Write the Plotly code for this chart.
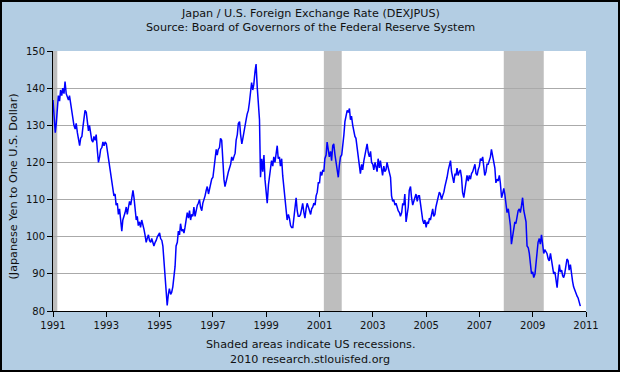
import pandas as pd
import plotly.graph_objects as go

# Semi-monthly readings (1st and 15th of each month), yen per US dollar
y1991 = [136.8, 131.5, 128.0, 130.5, 134.5, 138.0, 136.5, 139.5, 138.0, 140.0, 138.5, 141.8,
         138.5, 137.5, 136.8, 138.0, 135.5, 133.5, 131.0, 130.0, 129.0, 130.5, 128.0, 126.5]
y1992 = [124.5, 126.5, 127.0, 129.5, 133.0, 134.0, 133.5, 131.0, 128.5, 130.0, 127.0, 126.0,
         125.5, 127.0, 126.0, 127.5, 123.0, 120.0, 121.5, 123.5, 124.0, 125.5, 124.5, 125.5]
y1993 = [125.0, 123.0, 121.0, 118.5, 117.0, 115.5, 113.5, 111.0, 111.5, 108.5, 109.0, 106.0,
         107.5, 105.0, 101.5, 104.5, 105.5, 106.5, 108.0, 106.0, 108.0, 109.5, 108.5, 111.0]
y1994 = [112.5, 110.5, 108.0, 104.5, 105.5, 103.0, 104.0, 102.5, 104.5, 103.5, 102.0, 100.5,
         98.5, 99.5, 100.5, 99.0, 98.5, 99.5, 98.0, 97.5, 98.5, 99.0, 100.0, 100.5]
y1995 = [101.0, 99.5, 99.0, 97.5, 93.0, 88.5, 84.5, 81.5, 84.5, 86.0, 84.5, 85.0,
         86.5, 88.5, 92.0, 97.5, 98.5, 101.5, 100.5, 103.5, 101.5, 102.0, 101.0, 102.5]
y1996 = [104.5, 106.5, 105.0, 107.0, 104.5, 106.0, 105.5, 108.0, 105.5, 107.5, 108.5, 109.0,
         110.0, 108.0, 107.0, 109.0, 110.0, 111.0, 112.5, 113.5, 111.5, 113.0, 114.0, 115.5]
y1997 = [116.0, 118.5, 121.5, 123.5, 122.0, 123.5, 124.0, 126.5, 126.0, 119.5, 115.5, 113.5,
         114.5, 116.0, 117.5, 118.5, 119.5, 121.5, 120.5, 121.5, 122.5, 126.0, 127.5, 130.5]
y1998 = [131.0, 127.5, 125.0, 126.5, 128.5, 129.5, 131.5, 133.0, 134.0, 136.0, 140.0, 141.5,
         139.5, 141.0, 144.5, 146.5, 140.0, 135.0, 131.5, 116.0, 121.0, 117.5, 122.0, 115.5]
y1999 = [112.0, 109.0, 114.0, 116.5, 118.5, 120.5, 119.0, 121.5, 120.0, 122.5, 124.5, 121.0,
         121.5, 119.0, 121.0, 116.5, 113.5, 110.0, 107.0, 104.5, 106.0, 105.0, 103.0, 102.5]
y2000 = [102.5, 105.5, 107.0, 110.5, 107.0, 105.5, 105.5, 106.0, 107.5, 109.0, 106.5, 105.0,
         107.5, 109.0, 108.0, 107.0, 106.0, 107.5, 108.0, 109.0, 108.5, 111.0, 112.0, 114.5]
y2001 = [114.5, 117.5, 116.5, 118.0, 117.5, 121.0, 122.0, 125.5, 123.5, 121.5, 123.0, 120.5,
         124.5, 125.0, 122.0, 120.0, 118.5, 116.0, 119.5, 121.5, 122.0, 124.0, 127.5, 131.0]
y2002 = [132.5, 134.0, 133.5, 134.5, 131.5, 132.5, 130.0, 128.0, 127.0, 126.5, 124.0, 121.5,
         119.0, 117.0, 119.5, 118.0, 120.5, 122.0, 123.5, 125.0, 122.5, 121.5, 123.0, 120.0]
y2003 = [119.5, 118.0, 120.0, 118.5, 117.5, 121.0, 118.5, 120.5, 117.5, 116.5, 119.0, 117.5,
         118.0, 120.0, 118.5, 117.5, 116.0, 111.0, 109.5, 110.0, 108.5, 109.0, 107.5, 107.0]
y2004 = [106.5, 105.5, 106.5, 109.0, 108.5, 111.5, 104.0, 106.0, 108.0, 112.5, 113.5, 110.5,
         108.5, 109.5, 110.5, 111.5, 109.5, 111.0, 111.0, 108.5, 106.0, 104.5, 103.5, 104.5]
y2005 = [102.5, 104.0, 103.5, 105.0, 104.5, 106.0, 107.5, 105.5, 106.0, 108.0, 109.5, 110.5,
         112.0, 111.5, 110.0, 111.0, 112.0, 113.5, 114.5, 116.0, 118.0, 119.5, 120.5, 117.5]
y2006 = [116.0, 114.5, 117.0, 116.5, 118.5, 116.5, 117.5, 118.0, 116.0, 112.0, 110.5, 112.5,
         114.0, 116.5, 115.0, 116.5, 115.5, 117.0, 117.5, 118.5, 119.5, 117.0, 116.5, 118.0]
y2007 = [119.0, 121.0, 120.5, 121.5, 118.0, 116.5, 117.5, 119.5, 119.5, 120.5, 121.5, 123.5,
         122.0, 121.0, 118.5, 114.5, 115.5, 115.0, 116.5, 114.5, 110.5, 111.5, 113.0, 111.5]
y2008 = [109.0, 106.5, 107.5, 105.5, 103.0, 98.0, 100.5, 102.5, 104.0, 103.5, 105.5, 107.0,
         107.5, 106.5, 108.5, 110.5, 107.0, 105.5, 104.0, 97.5, 97.0, 95.5, 93.0, 90.0]
y2009 = [90.5, 89.0, 90.0, 93.0, 97.5, 98.5, 99.5, 98.0, 100.5, 97.5, 95.5, 96.5,
         96.0, 95.5, 94.0, 93.5, 95.5, 93.5, 91.0, 90.0, 90.5, 89.0, 86.3, 89.5]
y2010 = [92.5, 90.5, 91.0, 89.5, 89.0, 90.0, 92.5, 94.0, 93.5, 91.0, 92.5, 89.5,
         88.0, 86.5, 85.5, 84.5, 84.0, 83.5, 82.0, 81.3]

rates = (y1991 + y1992 + y1993 + y1994 + y1995 + y1996 + y1997 + y1998 + y1999 + y2000 +
         y2001 + y2002 + y2003 + y2004 + y2005 + y2006 + y2007 + y2008 + y2009 + y2010)
dates = pd.date_range(start="1991-01-01", periods=len(rates), freq="SMS")

recession_starts = ["1991-01-01", "2001-03-01", "2007-12-01"]
recession_ends = ["1991-03-01", "2001-11-01", "2009-06-01"]

y_ticks = [80, 90, 100, 110, 120, 130, 140, 150]

W, H = 620, 372
L, R, T, B = 53, 34, 51, 61
PW, PH = W - L - R, H - T - B


def px_x(x):
    return (x - L) / PW


def px_y(y):
    return (H - B - y) / PH


fig = go.Figure()
fig.add_trace(go.Scatter(x=dates, y=rates, mode="lines",
                         line=dict(color="#0000FF", width=1.5), hoverinfo="skip"))

for s, e in zip(recession_starts, recession_ends):
    fig.add_shape(type="rect", xref="x", yref="paper", x0=s, x1=e, y0=0, y1=1,
                  fillcolor="#BEBEBE", line=dict(width=0), layer="between")

# outer black frame
fig.add_shape(type="rect", xref="paper", yref="paper",
              x0=px_x(1), x1=px_x(W - 1), y0=px_y(H - 1), y1=px_y(1),
              line=dict(color="black", width=2), fillcolor="rgba(0,0,0,0)", layer="above")

font_main = "DejaVu Sans"
txt = [
    ("Japan / U.S. Foreign Exchange Rate (DEXJPUS)", 310, 13),
    ("Source: Board of Governors of the Federal Reserve System", 310, 27),
    ("Shaded areas indicate US recessions.", 310, 344),
    ("2010 research.stlouisfed.org", 310, 359),
]
for t, x, y in txt:
    fig.add_annotation(text=t, xref="paper", yref="paper", x=px_x(x), y=px_y(y),
                       xanchor="center", yanchor="middle", showarrow=False,
                       font=dict(family=font_main, size=11.2, color="#111111"))
fig.add_annotation(text="(Japanese Yen to One U.S. Dollar)", xref="paper", yref="paper",
                   x=px_x(13.5), y=px_y(187), textangle=-90, xanchor="center", yanchor="middle",
                   showarrow=False, font=dict(family=font_main, size=11.2, color="#111111"))

fig.update_layout(
    width=W, height=H,
    margin=dict(l=L, r=R, t=T, b=B, pad=0),
    paper_bgcolor="#B3CDE3", plot_bgcolor="white",
    showlegend=False,
    font=dict(family=font_main, size=10, color="#111111"),
)
fig.update_xaxes(type="date", range=["1991-01-01", "2011-01-01"],
                 tick0="1991-01-01", dtick="M24", tickformat="%Y",
                 showgrid=False, showline=True, linecolor="black", linewidth=1,
                 ticks="outside", ticklen=5, tickcolor="black", zeroline=False,
                 tickfont=dict(size=10))
fig.update_yaxes(range=[80, 150], tickvals=y_ticks,
                 showgrid=True, gridcolor="#AAAAAA", gridwidth=1,
                 showline=True, linecolor="black", linewidth=1,
                 ticks="outside", ticklen=5, tickcolor="black", zeroline=False,
                 tickfont=dict(size=10))

fig.write_html("out.html", config={"displayModeBar": False},
               post_script="document.body.style.margin='0px';")
